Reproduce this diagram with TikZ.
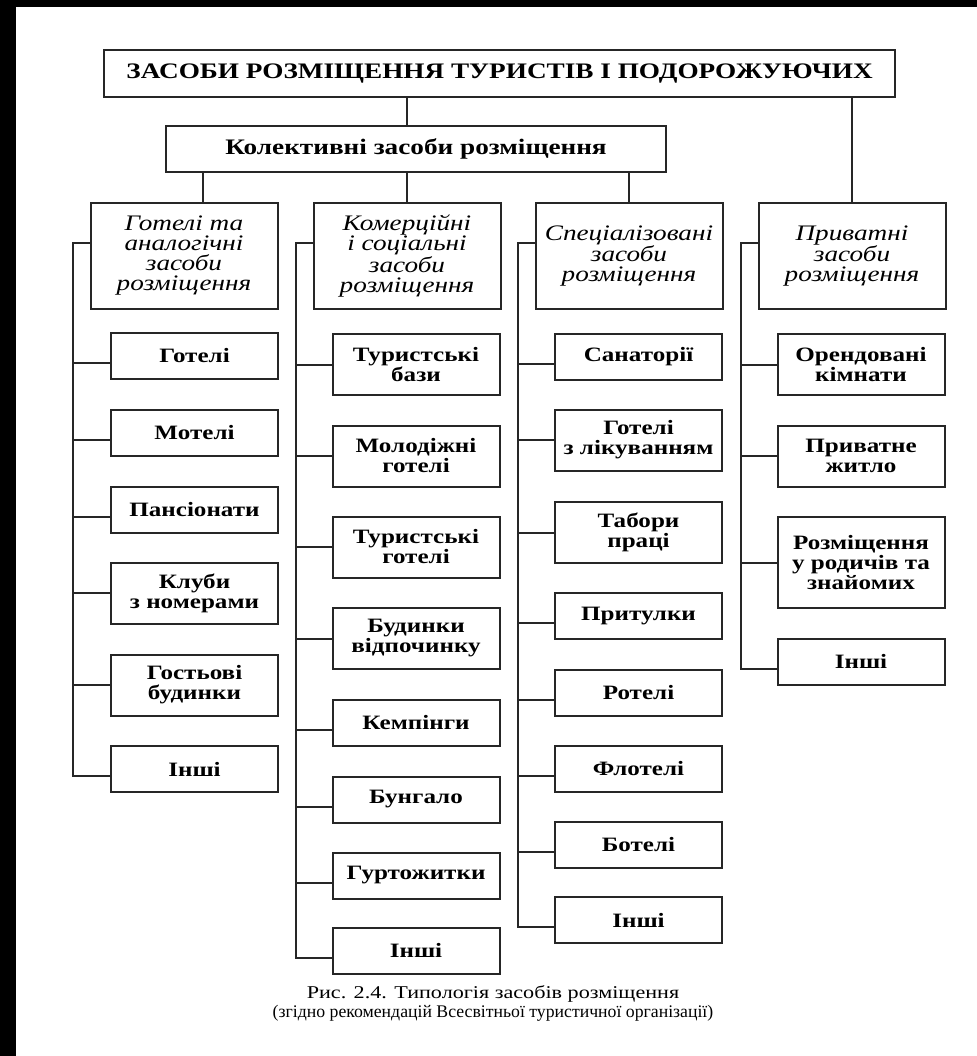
\documentclass[tikz,border=0pt]{standalone}
\usepackage{fontspec}
\setmainfont{Liberation Serif}[FakeStretch=1.23]
\newfontfamily\capfont{Liberation Serif}

\begin{document}
\begin{tikzpicture}[x=0.75pt,y=-0.75pt,
  box/.style={draw=black!85, line width=1.5pt, fill=white, inner sep=2pt, align=center},
  head/.style={box, font=\fontsize{16.6}{15}\selectfont\bfseries},
  cat/.style={box, font=\fontsize{16.6}{15}\selectfont\itshape, minimum width=140.25pt, minimum height=79.5pt},
  item/.style={box, font=\fontsize{15.3}{15}\selectfont\bfseries, minimum width=125.25pt, minimum height=34.5pt},
  conn/.style={draw=black!85, line width=1.5pt},
  dn/.style={yshift=-5.6pt}]
\def \wide {45.75pt}
\def \tall {68.25pt}
\fill[black] (0,0) rectangle (977,1056);
\fill[white] (16,7) rectangle (977,1056);
\useasboundingbox (0,0) rectangle (977,1056);

\draw (499.5,73.5) node[head, minimum width=593.25pt, minimum height=35.25pt] (top) {ЗАСОБИ РОЗМІЩЕННЯ ТУРИСТІВ І ПОДОРОЖУЮЧИХ};
\draw (416,149) node[head, minimum width=375pt, minimum height=34.5pt] (coll) {Колективні засоби розміщення};

\draw (184,256) node[cat] (hot) {Готелі та\\аналогічні\\засоби\\розміщення};
\draw (407,256) node[cat] (com) {Комерційні\\і соціальні\\засоби\\розміщення};
\draw (629,256) node[cat] (spec) {Спеціалізовані\\засоби\\розміщення};
\draw (852,256) node[cat] (priv) {Приватні\\засоби\\розміщення};

\draw (194.5,356) node[item] (h1) {Готелі};
\draw (194.5,433) node[item] (h2) {Мотелі};
\draw (194.5,510) node[item] (h3) {Пансіонати};
\draw (194.5,593) node[item, minimum height=\wide] (h4) {Клуби\\з номерами};
\draw (194.5,685) node[item, minimum height=\wide] (h5) {Гостьові\\будинки};
\draw (194.5,769) node[item] (h6) {Інші};

\draw (416,364.5) node[item, minimum height=\wide] (c1) {Туристські\\бази};
\draw (416,456) node[item, minimum height=\wide] (c2) {Молодіжні\\готелі};
\draw (416,547) node[item, minimum height=\wide] (c3) {Туристські\\готелі};
\draw (416,638.5) node[item, minimum height=\wide] (c4) {Будинки\\відпочинку};
\draw (416,723) node[item] (c5) {Кемпінги};
\draw (416,799.5) node[item] (c6) {Бунгало};
\draw (416,875.5) node[item] (c7) {Гуртожитки};
\draw (416,950.5) node[item] (c8) {Інші};

\draw (638.5,356.5) node[item] (s1) {Санаторії};
\draw (638.5,440) node[item, minimum height=\wide] (s2) {Готелі\\з лікуванням};
\draw (638.5,532.5) node[item, minimum height=\wide] (s3) {Табори\\праці};
\draw (638.5,616) node[item] (s4) {Притулки};
\draw (638.5,692.5) node[item] (s5) {Ротелі};
\draw (638.5,769) node[item] (s6) {Флотелі};
\draw (638.5,845) node[item] (s7) {Ботелі};
\draw (638.5,920) node[item] (s8) {Інші};

\draw (861,364.5) node[item, minimum height=\wide] (p1) {Орендовані\\кімнати};
\draw (861,456) node[item, minimum height=\wide] (p2) {Приватне\\житло};
\draw (861,562.5) node[item, minimum height=\tall] (p3) {Розміщення\\у родичів та\\знайомих};
\draw (861,661.5) node[item] (p4) {Інші};

\draw (493,1003.5) node[align=center, font=\fontsize{13.5}{14.25}\selectfont] (cap) {Рис. 2.4. Типологія засобів розміщення\\{\capfont\fontsize{13.3}{14.25}\selectfont(згідно рекомендацій Всесвітньої туристичної організації)}};

% levels
\coordinate (hk) at ([xshift=14.25pt]hot.north);
\path[-] (com |- top.south) edge [conn] (com |- coll.north);
\path[-] (priv |- top.south) edge [conn] (priv.north);
\path[-] (hk |- coll.south) edge [conn] (hk);
\path[-] (com |- coll.south) edge [conn] (com.north);
\path[-] (spec |- coll.south) edge [conn] (spec.north);

% buses
\coordinate (hb) at ([xshift=-12.75pt,yshift=9.75pt]hot.west);
\coordinate (cb) at ([xshift=-12.75pt,yshift=9.75pt]com.west);
\coordinate (sb) at ([xshift=-12.75pt,yshift=9.75pt]spec.west);
\coordinate (pb) at ([xshift=-12.75pt,yshift=9.75pt]priv.west);
\draw[conn] ([yshift=9.75pt]hot.west) -- (hb) |- ([dn]h6.west);
\draw[conn] ([yshift=9.75pt]com.west) -- (cb) |- ([dn]c8.west);
\draw[conn] ([yshift=9.75pt]spec.west) -- (sb) |- ([dn]s8.west);
\draw[conn] ([yshift=9.75pt]priv.west) -- (pb) |- ([dn]p4.west);

\path[-] ([dn]h1.west -| hb) edge [conn] ([dn]h1.west);
\path[-] ([dn]h2.west -| hb) edge [conn] ([dn]h2.west);
\path[-] ([dn]h3.west -| hb) edge [conn] ([dn]h3.west);
\path[-] (hb |- h4) edge [conn] (h4.west);
\path[-] (hb |- h5) edge [conn] (h5.west);

\path[-] (cb |- c1) edge [conn] (c1.west);
\path[-] (cb |- c2) edge [conn] (c2.west);
\path[-] (cb |- c3) edge [conn] (c3.west);
\path[-] (cb |- c4) edge [conn] (c4.west);
\path[-] ([dn]c5.west -| cb) edge [conn] ([dn]c5.west);
\path[-] ([dn]c6.west -| cb) edge [conn] ([dn]c6.west);
\path[-] ([dn]c7.west -| cb) edge [conn] ([dn]c7.west);

\path[-] ([dn]s1.west -| sb) edge [conn] ([dn]s1.west);
\path[-] (sb |- s2) edge [conn] (s2.west);
\path[-] (sb |- s3) edge [conn] (s3.west);
\path[-] ([dn]s4.west -| sb) edge [conn] ([dn]s4.west);
\path[-] ([dn]s5.west -| sb) edge [conn] ([dn]s5.west);
\path[-] ([dn]s6.west -| sb) edge [conn] ([dn]s6.west);
\path[-] ([dn]s7.west -| sb) edge [conn] ([dn]s7.west);

\path[-] (pb |- p1) edge [conn] (p1.west);
\path[-] (pb |- p2) edge [conn] (p2.west);
\path[-] (pb |- p3) edge [conn] (p3.west);
\end{tikzpicture}
\end{document}
